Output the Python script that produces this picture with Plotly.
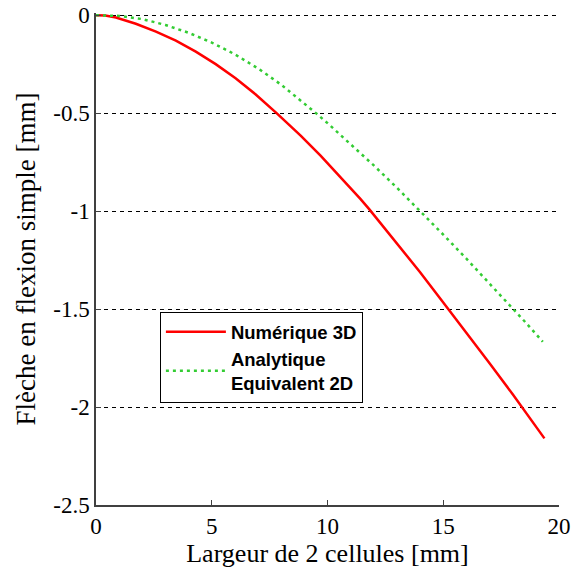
import plotly.graph_objects as go

# Data
x_num = [0, 0.4, 0.86, 1.72, 2.59, 3.45, 4.31, 5.17, 6.03, 6.9, 7.8, 8.84, 9.7, 10.56, 11.42,
         11.8, 13, 14, 15, 15.17, 16, 17, 18, 18.4, 19, 19.37]
y_num = [0, -0.002, -0.012, -0.044, -0.084, -0.13, -0.186, -0.25, -0.322, -0.405, -0.5, -0.615,
         -0.717, -0.825, -0.938, -0.99, -1.163, -1.312, -1.466, -1.492, -1.62, -1.776, -1.935,
         -2.0, -2.1, -2.16]

x_ana = [0, 1, 2, 3, 4, 5, 6, 7, 8, 9, 9.5, 10, 11, 12, 13, 14, 15, 16, 17, 18, 18.5, 19, 19.3]
y_ana = [0, -0.004, -0.02, -0.05, -0.09, -0.14, -0.2, -0.272, -0.355, -0.45, -0.5, -0.551,
         -0.657, -0.767, -0.881, -0.999, -1.12, -1.243, -1.368, -1.496, -1.561, -1.627, -1.667]

x_ticks = [0, 5, 10, 15, 20]
y_ticks = [0, -0.5, -1, -1.5, -2, -2.5]
y_tick_text = ["0", "-0.5", "-1", "-1.5", "-2", "-2.5"]

name_num = "Numérique 3D"
name_ana = "Analytique<br>Equivalent 2D"

serif = "Liberation Serif, Times New Roman, serif"
grid_color = "black"
grid_dash = "4px,4px"

fig = go.Figure()
fig.add_trace(go.Scatter(x=x_num, y=y_num, mode="lines", name=name_num,
                         line=dict(color="#ff0000", width=2.5)))
fig.add_trace(go.Scatter(x=x_ana, y=y_ana, mode="lines", name=name_ana,
                         line=dict(color="#33cc33", width=2.5, dash="3px,4px")))

fig.update_layout(
    width=571, height=570,
    margin=dict(l=96, r=12, t=13, b=65),
    paper_bgcolor="white", plot_bgcolor="white",
    font=dict(family=serif, size=23, color="black"),
    showlegend=True,
    legend=dict(x=0.138, y=0.392, xanchor="left", yanchor="top",
                bgcolor="white", bordercolor="black", borderwidth=1,
                itemwidth=60,
                font=dict(family="Liberation Sans, Arial, sans-serif", size=18.5, color="black",
                          weight="bold"),
                tracegroupgap=2),
)
fig.update_xaxes(range=[0, 20], tickvals=x_ticks, ticks="inside", ticklen=5, automargin=False,
                 tickcolor="#404040", showline=True, linecolor="#404040", linewidth=1.5,
                 showgrid=False, zeroline=False,
                 tickfont=dict(family=serif, size=23, color="black"),
                 title=dict(text="Largeur de 2 cellules [mm]", standoff=4,
                            font=dict(family=serif, size=26, color="black")))
# small headroom above 0 so that the y=0 dashed gridline is drawn (plotly drops edge gridlines)
fig.update_yaxes(range=[-2.5, 0.011], tickvals=y_ticks, ticktext=y_tick_text, ticks="inside",
                 ticklen=5, automargin=False,
                 tickcolor="#404040", showline=True, linecolor="#404040", linewidth=1.5,
                 showgrid=True, gridcolor=grid_color, gridwidth=1, griddash=grid_dash,
                 zeroline=False,
                 tickfont=dict(family=serif, size=23, color="black"),
                 title=dict(text="Flèche en flexion simple [mm]", standoff=10,
                            font=dict(family=serif, size=27, color="black")))

fig.write_html("out.html")
